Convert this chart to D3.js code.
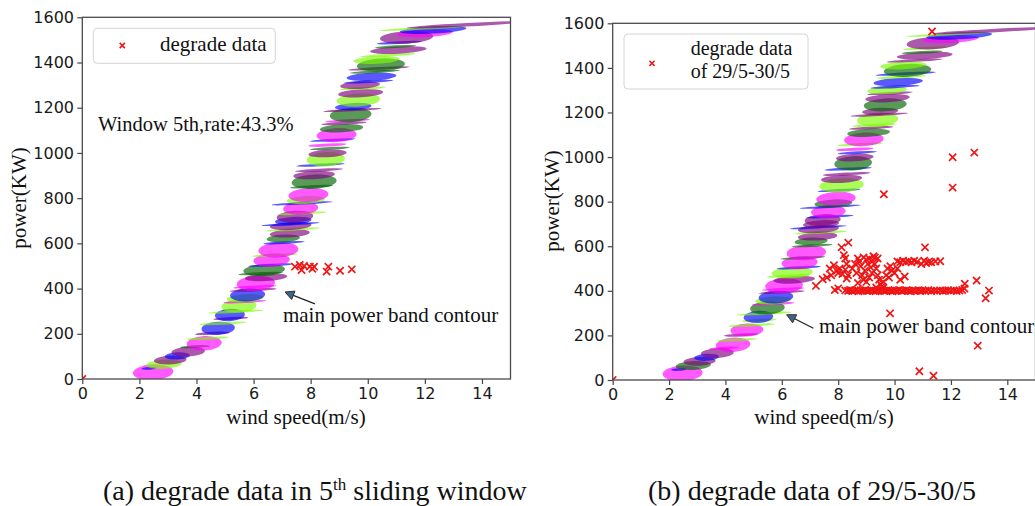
<!DOCTYPE html>
<html>
<head>
<meta charset="utf-8">
<script src="https://cdn.jsdelivr.net/npm/d3@7/dist/d3.min.js"></script>
<style>
body { margin: 0; background: #fff; }
#c { width: 1035px; height: 506px; }
</style>
</head>
<body>
<div id="c"></div>
<script>
"use strict";

// main power band: one ellipse per row, centre power (kW), centre wind speed (m/s),
// width (m/s) and height (kW) from bottom to top
const bandPower = [30, 47, 65, 84, 102, 121, 143, 158, 180, 202, 224, 246, 268, 283, 298, 323, 342, 357, 372, 394,
    408, 423, 450, 467, 482, 504, 526, 548, 571, 603, 622, 644, 662, 677, 685, 700, 718, 733, 755, 777,
    792, 814, 851, 873, 902, 924, 947, 972, 998, 1020, 1035, 1057, 1079, 1109, 1131, 1143, 1168, 1190, 1205, 1234,
    1264, 1286, 1300, 1315, 1337, 1359, 1374, 1389, 1411, 1433, 1455, 1470, 1488, 1511, 1529, 1544, 1551, 1567]
const bandSpeed = [2.48, 2.34, 2.86, 3.08, 3.33, 3.71, 3.95, 4.27, 4.40, 4.56, 4.76, 4.93, 5.20, 5.17, 5.38, 5.49, 5.70, 5.70, 5.79, 5.99,
    6.05, 6.08, 6.44, 6.25, 6.37, 6.60, 6.63, 6.75, 6.87, 7.07, 7.04, 7.27, 7.39, 7.30, 7.30, 7.39, 7.45, 7.71, 7.65, 7.71,
    7.83, 7.92, 8.03, 8.12, 8.12, 8.30, 8.35, 8.53, 8.59, 8.68, 8.59, 8.78, 8.91, 9.08, 9.17, 9.29, 9.40, 9.46, 9.49, 9.67,
    9.75, 9.84, 9.73, 10.02, 10.13, 10.25, 10.40, 10.46, 10.31, 10.72, 11.07, 10.98, 11.10, 11.36, 12.00, 12.29, 11.94, 13.46]
const bandWidth = [1.42, 0.53, 1.25, 1.14, 0.88, 1.17, 1.05, 1.23, 1.45, 1.23, 1.17, 1.66, 1.23, 1.05, 1.93, 1.23, 1.52, 1.28, 1.23, 1.63,
    1.52, 1.34, 1.48, 1.58, 1.46, 1.58, 1.28, 1.60, 1.40, 1.46, 1.17, 1.40, 1.87, 1.46, 2.04, 1.28, 1.28, 1.69, 1.23, 2.16,
    1.34, 1.40, 1.52, 1.58, 1.46, 1.69, 1.69, 1.34, 1.34, 1.40, 1.34, 1.60, 1.40, 1.52, 1.58, 1.58, 1.46, 2.04, 1.28, 1.52,
    1.58, 1.63, 1.40, 1.75, 1.75, 1.75, 2.16, 1.69, 1.63, 1.98, 1.98, 1.46, 1.58, 1.87, 1.98, 2.34, 3.04, 4.20]
const bandHeight = [70, 12, 40, 40, 32, 44, 12, 64, 12, 13, 58, 12, 13, 55, 12, 58, 12, 36, 58, 13,
    12, 68, 34, 12, 52, 12, 58, 12, 68, 12, 34, 36, 12, 36, 11, 34, 52, 12, 58, 11,
    36, 62, 12, 64, 36, 13, 12, 64, 34, 12, 14, 12, 62, 36, 13, 12, 64, 12, 32, 58,
    36, 12, 34, 12, 36, 12, 12, 58, 34, 12, 32, 12, 12, 55, 34, 32, 11, 16]
// colour letters: M magenta, L lime, G dark green, B blue, P purple
const bandColorA = ("M B L P B P G M L P B L P B L L M L B P M M P G G B M L " +
    "M B G P L P B B P L M B L M G G P P B L P G M B " +
    "M G P M G P B L P L P B B G P G L L P G B P M B L P").split(" ")
const bandColorB = ("M B G P B P M M L P M L L B L G M L B P M M P L L B M G " +
    "M G G P L P B P P B M B G M B L P P B G P B M L " +
    "M G P L L P P G P P L B B L B G L P P G L P M B L P").split(" ")

// degrade data, [wind speed, power]
const degradeA = [[0, 0], [7.45, 497], [7.62, 504], [7.68, 482], [7.77, 500], [7.97, 497], [8.06, 488],
    [8.12, 497], [8.56, 475], [8.62, 497], [9.03, 479], [9.44, 485]]
const degradeB = [[0, 0],
    // isolated points
    [8.36, 616], [8.12, 595], [11.08, 595], [7.21, 422], [7.45, 452], [9.84, 299], [12.91, 446], [13.35, 401],
    [13.23, 367], [12.95, 154], [10.88, 39], [11.38, 19], [9.62, 833], [12.06, 999], [12.06, 863], [12.83, 1020],
    [11.33, 1563], [10.36, 464], [12.49, 432],
    // the 400 kW line
    [7.88, 404], [8.0, 411], [8.25, 402], [8.35, 400], [8.42, 404], [8.5, 399], [8.58, 401], [8.65, 403], [8.72, 398],
    [8.8, 402], [8.87, 400], [8.95, 404], [9.02, 399], [9.1, 401], [9.18, 403], [9.25, 400], [9.33, 398], [9.4, 402],
    [9.48, 400], [9.56, 404], [9.63, 399], [9.7, 401], [9.78, 403], [9.86, 400], [9.93, 398], [10.0, 402], [10.08, 400],
    [10.16, 404], [10.25, 399], [10.33, 401], [10.42, 403], [10.5, 400], [10.58, 398], [10.66, 402], [10.75, 400],
    [10.84, 403], [10.92, 399], [11.0, 401], [11.1, 400], [11.2, 403], [11.3, 399], [11.4, 401], [11.5, 400],
    [11.62, 402], [11.72, 399], [11.8, 401], [11.9, 403], [12.0, 400], [12.1, 402], [12.2, 399], [12.3, 401],
    [12.4, 404], [12.48, 410],
    // the 530 kW line
    [10.1, 532], [10.2, 528], [10.3, 535], [10.4, 530], [10.5, 533], [10.6, 528], [10.7, 535], [10.8, 530],
    [10.95, 520], [11.05, 535], [11.12, 525], [11.2, 530], [11.3, 528], [11.45, 532], [11.62, 533],
    // the wedge between 7.5 and 10.4 m/s
    [8.2, 560], [8.25, 545], [8.3, 520], [8.05, 500], [7.95, 490], [8.15, 475], [7.75, 470], [7.6, 460],
    [7.7, 500], [7.85, 515], [8.0, 480], [8.25, 495], [8.35, 470], [8.3, 455],
    [8.5, 500], [8.6, 520], [8.7, 545], [8.75, 530], [8.8, 510], [8.9, 550], [8.65, 480], [8.85, 470],
    [8.95, 490], [9.0, 540], [9.05, 520], [9.1, 545], [9.15, 505], [9.2, 480], [8.9, 450], [9.0, 440],
    [9.1, 460], [8.7, 435], [9.2, 530], [9.25, 555],
    [9.3, 520], [9.35, 500], [9.4, 470], [9.45, 450], [9.5, 430], [9.55, 420], [9.6, 440], [9.4, 545],
    [9.3, 550], [9.7, 470], [9.75, 500], [9.85, 510], [9.9, 490], [10.0, 480], [10.1, 500], [9.8, 460],
    [9.6, 415], [9.35, 415], [10.2, 450]]

const xTicks = [0, 2, 4, 6, 8, 10, 12, 14]
const yTicks = [0, 200, 400, 600, 800, 1000, 1200, 1400, 1600]
const captionA = ["(a) degrade data in 5", "th", " sliding window"]
const captionB = "(b) degrade data of 29/5-30/5"

const colorOf = { M: "#ff00ff", L: "#7cfc00", G: "#006400", B: "#0000ff", P: "#800080" }
const serif = "'Liberation Serif', 'Times New Roman', serif"
const sans = "'DejaVu Sans', sans-serif"

let svg

window.onload = function() {
    svg = d3.select('#c').append('svg')
        .attr('width', 1035).attr('height', 506)

    drawPanel({
        id: 'a', x0: 82.3, x1: 510.5, y0: 379, y1: 17.3,
        colors: bandColorA, degrade: degradeA,
        legend: { x: 93.3, y: 28.3, w: 182, h: 35, mx: 122.3, my: 45.5, tx: 160, ty: [51], lines: ["degrade data"], size: 21 },
        note: { text: "Window 5th,rate:43.3%", v: 0.55, p: 1097 },
        arrow: { head: [7.1, 385], tail: [8.15, 332], text: [7.03, 252] },
        ylabel: [26, 198], xlabel: [296, 424]
    })
    drawPanel({
        id: 'b', x0: 612.7, x1: 1035.5, y0: 380, y1: 23.3,
        colors: bandColorB, degrade: degradeB,
        legend: { x: 624, y: 34, w: 184, h: 55, mx: 652, my: 63.3, tx: 690.7, ty: [55, 77.5], lines: ["degrade data", "of 29/5-30/5"], size: 20 },
        note: null,
        arrow: { head: [6.17, 293], tail: [7.12, 232], text: [7.32, 211] },
        ylabel: [559, 201], xlabel: [824, 424]
    })

    let capA = svg.append('text')
        .attr('x', 103).attr('y', 500)
        .style('font-family', serif).style('font-size', '28px').attr('fill', '#111')
    capA.append('tspan').text(captionA[0])
    capA.append('tspan').text(captionA[1]).attr('dy', -10).style('font-size', '17px')
    capA.append('tspan').text(captionA[2]).attr('dy', 10)

    svg.append('text')
        .attr('x', 648).attr('y', 500)
        .style('font-family', serif).style('font-size', '28px').attr('fill', '#111')
        .text(captionB)
}

function drawPanel(cfg) {
    const xScale = d3.scaleLinear().domain([0, 15]).range([cfg.x0, cfg.x1])
    const yScale = d3.scaleLinear().domain([0, 1600]).range([cfg.y0, cfg.y1])

    let g = svg.append('g').attr('class', 'panel-' + cfg.id)

    g.append('clipPath').attr('id', 'clip-' + cfg.id)
        .append('rect')
        .attr('x', cfg.x0).attr('y', cfg.y1)
        .attr('width', cfg.x1 - cfg.x0).attr('height', cfg.y0 - cfg.y1)

    // band ellipses
    g.append('g')
        .attr('clip-path', 'url(#clip-' + cfg.id + ')')
        .selectAll('ellipse')
        .data(d3.range(bandPower.length))
        .join('ellipse')
            .attr('cx', i => xScale(bandSpeed[i]))
            .attr('cy', i => yScale(bandPower[i]))
            .attr('rx', i => (xScale(bandSpeed[i] + bandWidth[i] / 2) - xScale(bandSpeed[i] - bandWidth[i] / 2)) / 2)
            .attr('ry', i => (yScale(bandPower[i] - bandHeight[i] / 2) - yScale(bandPower[i] + bandHeight[i] / 2)) / 2)
            .attr('transform', i => 'rotate(-3,' + xScale(bandSpeed[i]) + ',' + yScale(bandPower[i]) + ')')
            .attr('fill', i => colorOf[cfg.colors[i]])
            .attr('fill-opacity', 0.65)

    // degrade points
    const cross = 'M-3.6,-3.6L3.6,3.6M-3.6,3.6L3.6,-3.6'
    g.append('g')
        .attr('clip-path', 'url(#clip-' + cfg.id + ')')
        .selectAll('path')
        .data(cfg.degrade)
        .join('path')
            .attr('d', cross)
            .attr('transform', d => 'translate(' + xScale(d[0]) + ',' + yScale(d[1]) + ')')
            .attr('stroke', '#f01414')
            .attr('stroke-width', 1.7)
            .attr('fill', 'none')

    // axes
    let xAxis = g.append('g')
        .attr('transform', 'translate(0,' + cfg.y0 + ')')
        .call(d3.axisBottom(xScale).tickValues(xTicks).tickSize(5).tickPadding(3.5).tickFormat(d3.format('d')))
    let yAxis = g.append('g')
        .attr('transform', 'translate(' + cfg.x0 + ',0)')
        .call(d3.axisLeft(yScale).tickValues(yTicks).tickSize(5).tickPadding(3.3).tickFormat(d3.format('d')))
    ;[xAxis, yAxis].forEach(ax => {
        ax.select('.domain').remove()
        ax.selectAll('line').attr('stroke', '#444').attr('stroke-width', 1.2)
        ax.selectAll('text').style('font-family', sans).style('font-size', '16px').attr('fill', '#1a1a1a')
    })

    // frame
    g.append('rect')
        .attr('x', cfg.x0).attr('y', cfg.y1)
        .attr('width', cfg.x1 - cfg.x0).attr('height', cfg.y0 - cfg.y1)
        .attr('fill', 'none').attr('stroke', '#4a4a4a').attr('stroke-width', 1.3)

    // axis labels
    g.append('text')
        .attr('transform', 'translate(' + cfg.ylabel[0] + ',' + cfg.ylabel[1] + ') rotate(-90)')
        .style('text-anchor', 'middle')
        .style('font-family', serif).style('font-size', '21px').attr('fill', '#111')
        .text('power(KW)')
    g.append('text')
        .attr('x', cfg.xlabel[0]).attr('y', cfg.xlabel[1])
        .style('text-anchor', 'middle')
        .style('font-family', serif).style('font-size', '21px').attr('fill', '#111')
        .text('wind speed(m/s)')

    // legend
    let lg = cfg.legend
    g.append('rect')
        .attr('x', lg.x).attr('y', lg.y).attr('width', lg.w).attr('height', lg.h)
        .attr('rx', 4)
        .attr('fill', 'white').attr('fill-opacity', 0.85)
        .attr('stroke', '#d4d4d4').attr('stroke-width', 1)
    g.append('path')
        .attr('d', 'M-2.6,-2.6L2.6,2.6M-2.6,2.6L2.6,-2.6')
        .attr('transform', 'translate(' + lg.mx + ',' + lg.my + ')')
        .attr('stroke', '#f01414').attr('stroke-width', 1.5)
    lg.lines.forEach((line, i) => {
        g.append('text')
            .attr('x', lg.tx).attr('y', lg.ty[i])
            .style('font-family', serif).style('font-size', lg.size + 'px').attr('fill', '#111')
            .text(line)
    })

    // in-plot note
    if (cfg.note) {
        g.append('text')
            .attr('x', xScale(cfg.note.v)).attr('y', yScale(cfg.note.p))
            .style('font-family', serif).style('font-size', '20.5px').attr('fill', '#111')
            .text(cfg.note.text)
    }

    // annotation arrow
    let a = cfg.arrow
    let hx = xScale(a.head[0]), hy = yScale(a.head[1])
    let tx = xScale(a.tail[0]), ty = yScale(a.tail[1])
    let ang = Math.atan2(hy - ty, hx - tx)
    let len = 9, half = 4.5
    let bx = hx - len * Math.cos(ang), by = hy - len * Math.sin(ang)
    g.append('line')
        .attr('x1', tx).attr('y1', ty).attr('x2', bx).attr('y2', by)
        .attr('stroke', '#222').attr('stroke-width', 1.3)
    g.append('path')
        .attr('d', 'M' + hx + ',' + hy +
            'L' + (bx - half * Math.sin(ang)) + ',' + (by + half * Math.cos(ang)) +
            'L' + (bx + half * Math.sin(ang)) + ',' + (by - half * Math.cos(ang)) + 'Z')
        .attr('fill', '#3e6585').attr('stroke', '#222').attr('stroke-width', 0.9)
    g.append('text')
        .attr('x', xScale(a.text[0])).attr('y', yScale(a.text[1]))
        .style('font-family', serif).style('font-size', '21px').attr('fill', '#111')
        .text('main power band contour')
}
</script>
</body>
</html>
